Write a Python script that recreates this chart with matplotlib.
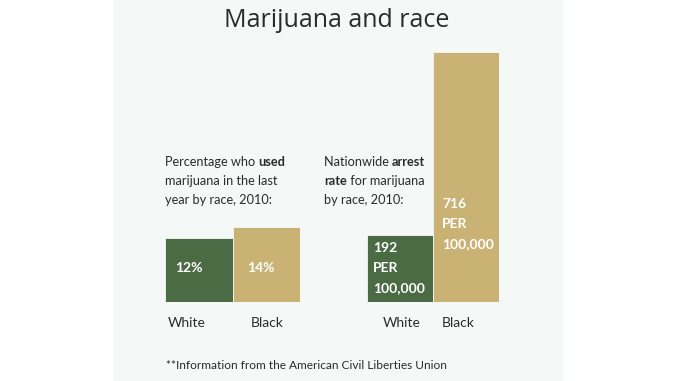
import matplotlib
matplotlib.use("Agg")
import matplotlib.pyplot as plt
from matplotlib.patches import Rectangle
from matplotlib.text import Annotation

# data
races = ['White', 'Black']
use_pct = [12, 14]
arrest_rate = [192, 716]
use_labels = ['12%', '14%']
arrest_labels = ['192\nPER\n100,000', '716\nPER\n100,000']

GREEN = '#4b6b45'
TAN = '#c9b273'
PANEL = '#f4f9f8'
TXT = '#2b2b2b'
BODY = ['Lato', 'DejaVu Sans']

fig = plt.figure(figsize=(6.78, 3.81), dpi=100)
fig.patch.set_facecolor('white')
fig.add_artist(Rectangle((113 / 678, 0), 450 / 678, 1, transform=fig.transFigure,
                         facecolor=PANEL, edgecolor='none', zorder=-5))

fig.text(0.497, 1 - 27 / 381, 'Marijuana and race', ha='center', va='baseline',
         fontsize=18, family='Open Sans', color=TXT)


def bar_chart(rect, values, labels, ymax, label_offsets, name_offsets):
    ax = fig.add_axes(rect, zorder=2)
    ax.patch.set_alpha(0)
    ax.bar(range(len(values)), values, width=1.0, color=[GREEN, TAN],
           edgecolor=PANEL, linewidth=0.6)
    ax.set_xlim(-0.5, len(values) - 0.5)
    ax.set_ylim(0, ymax)
    ax.axis('off')
    for i, lab in enumerate(labels):
        dx, dy, va = label_offsets[i]
        ax.annotate(lab, xy=(i - 0.5, 0), xytext=(dx, dy), textcoords='offset pixels',
                    ha='left', va=va, color='white', fontsize=10, fontweight='bold',
                    family=BODY, linespacing=1.8)
    # race names under the bars
    for i, name in enumerate(races):
        ax.annotate(name, xy=(i, 0), xytext=(name_offsets[i], -21),
                    textcoords='offset pixels', ha='center', va='center',
                    family=BODY, fontsize=10, color=TXT, annotation_clip=False)
    return ax


bar_chart([165 / 678, 1 - 302 / 381, 135 / 678, 75 / 381], use_pct, use_labels, 14,
          [(10, 34, 'center'), (15, 34, 'center')], [-12, 1])
bar_chart([367 / 678, 1 - 302 / 381, 132 / 678, 250 / 381], arrest_rate, arrest_labels, 716,
          [(6, 8, 'bottom'), (9, 52, 'bottom')], [2, -8])

# notes with a bold word inside the line
left_note = [[('Percentage who ', 'normal'), ('used', 'bold')],
             [('marijuana in the last', 'normal')],
             [('year by race, 2010:', 'normal')]]
right_note = [[('Nationwide ', 'normal'), ('arrest', 'bold')],
              [('rate', 'bold'), (' for marijuana', 'normal')],
              [('by race, 2010:', 'normal')]]

style = dict(family=BODY, fontsize=9.2, color=TXT, va='bottom', ha='left')
for x0, note in [(165, left_note), (324, right_note)]:
    for k, parts in enumerate(note):
        ypx = 168 + 19 * k
        prev = fig.text(x0 / 678, 1 - ypx / 381, parts[0][0], fontweight=parts[0][1], **style)
        for s, w in parts[1:]:
            prev = fig.add_artist(Annotation(s, xy=(1, 0), xycoords=prev,
                                             fontweight=w, **style))

fig.text(166 / 678, 1 - 369 / 381, '**Information from the American Civil Liberties Union',
         family=BODY, fontsize=8.6, color=TXT, va='baseline', ha='left')

fig.savefig('out.png', dpi=100, facecolor='white')
